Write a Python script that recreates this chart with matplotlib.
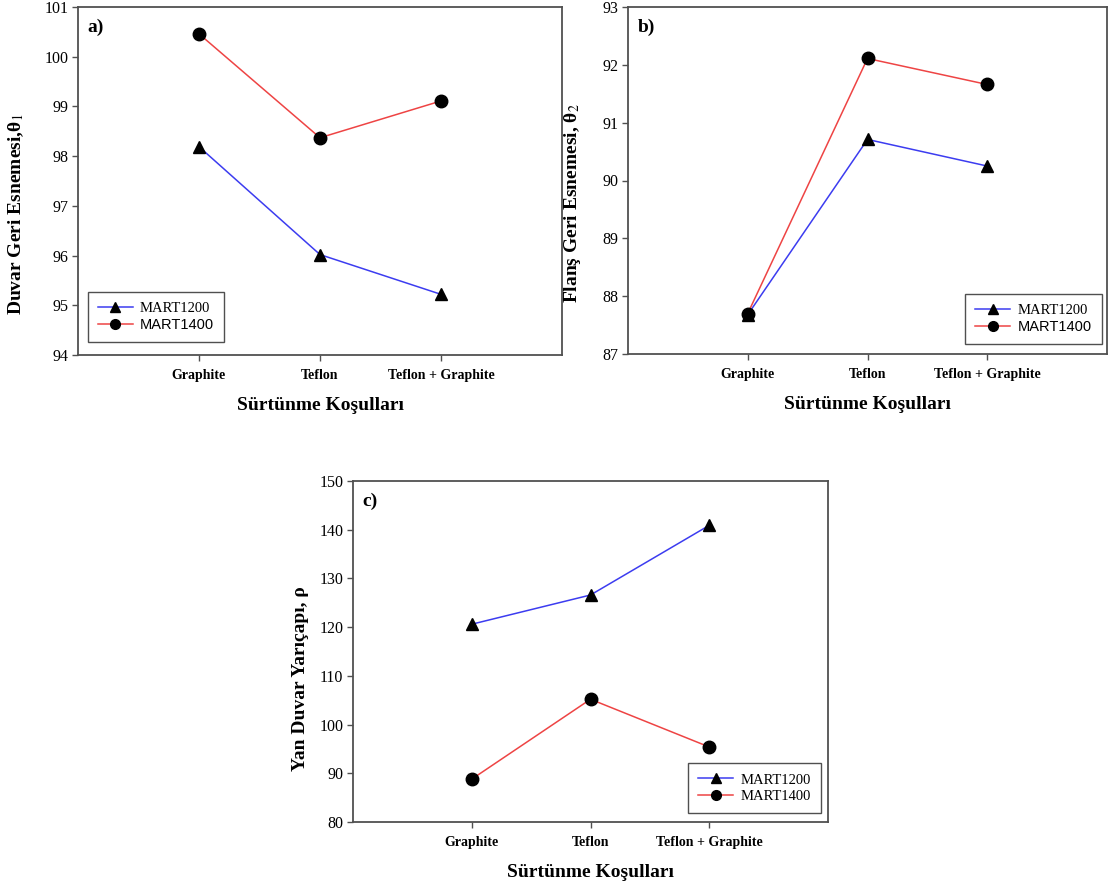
import matplotlib.pyplot as plt
from matplotlib.lines import Line2D

plt.rcParams['font.family'] = ['Liberation Serif', 'DejaVu Serif']
plt.rcParams['mathtext.fontset'] = 'stix'
plt.rcParams['axes.unicode_minus'] = False

kosullar = ['Graphite', 'Teflon', 'Teflon + Graphite']
seriler = ['MART1200', 'MART1400']

# a) duvar geri esnemesi
duvar_1200 = [98.19, 96.02, 95.22]
duvar_1400 = [100.46, 98.37, 99.11]
# b) flans geri esnemesi
flans_1200 = [87.68, 90.71, 90.25]
flans_1400 = [87.70, 92.11, 91.66]
# c) yan duvar yaricapi
yaricap_1200 = [120.6, 126.6, 140.9]
yaricap_1400 = [88.8, 105.2, 95.4]

mavi = '#3c3cf0'
kirmizi = '#ee4444'
kenar = '#505050'

fig = plt.figure(figsize=(11.18, 8.85), dpi=100)

def panel(rect, y1200, y1400, ylim, yticks, ylabel, ylabel_xy, harf, leg_box, leg_fonts):
    ax = fig.add_axes(rect)
    x = list(range(1, len(kosullar) + 1))
    ax.plot(x, y1200, color=mavi, lw=1.1, marker='^', ms=9, mfc='black', mec='black', zorder=3)
    ax.plot(x, y1400, color=kirmizi, lw=1.1, marker='o', ms=9, mfc='black', mec='black', zorder=3)
    ax.set_xlim(0, 4)
    ax.set_ylim(*ylim)
    ax.set_yticks(yticks)
    ax.set_xticks(x)
    ax.set_xticklabels(kosullar, fontweight='bold', fontsize=10)
    ax.tick_params(axis='y', labelsize=11.5, direction='out', length=4, width=1, color=kenar, pad=3)
    ax.tick_params(axis='x', direction='out', length=4, width=1, color=kenar, pad=6)
    for s in ax.spines.values():
        s.set_color(kenar)
        s.set_linewidth(1.3)
    ax.set_xlabel('Sürtünme Koşulları', fontweight='bold', fontsize=14, labelpad=11)
    ax.set_ylabel(ylabel, fontweight='bold', fontsize=14)
    ax.yaxis.set_label_coords(*ylabel_xy)
    ax.text(0.02, 0.965, harf, transform=ax.transAxes, fontweight='bold', fontsize=14, va='top')
    tutamac = [Line2D([], [], color=mavi, lw=1.1, marker='^', ms=7, mfc='black', mec='black'),
               Line2D([], [], color=kirmizi, lw=1.1, marker='o', ms=7, mfc='black', mec='black')]
    leg = ax.legend(tutamac, seriler, loc='center', bbox_to_anchor=leg_box, fontsize=10.5,
                    fancybox=False, framealpha=1, edgecolor=kenar, handlelength=2.4,
                    handletextpad=0.5, borderpad=0.7, labelspacing=0.2)
    leg.get_frame().set_linewidth(1.0)
    for t, f in zip(leg.get_texts(), leg_fonts):
        t.set_fontfamily(f)
    return ax

W, H = 1118, 885

def rect(l, r, t, b):
    return [l / W, 1 - b / H, (r - l) / W, (b - t) / H]

def box(l, r, t, b, ax_l, ax_r, ax_t, ax_b):
    return ((((l + r) / 2) - ax_l) / (ax_r - ax_l), 1 - (((t + b) / 2) - ax_t) / (ax_b - ax_t))

panel(rect(78, 562, 7, 355), duvar_1200, duvar_1400, (94, 101), range(94, 102),
      'Duvar Geri Esnemesi,θ$_1$', (-0.107, 0.405), 'a)',
      box(92, 220, 292, 342, 78, 562, 7, 355), ['Liberation Serif', 'Liberation Sans'])
panel(rect(628, 1107, 7, 354), flans_1200, flans_1400, (87, 93), range(87, 94),
      'Flanş Geri Esnemesi, θ$_2$', (-0.093, 0.435), 'b)',
      box(968, 1099, 294, 344, 628, 1107, 7, 354), ['Liberation Serif', 'Liberation Sans'])
panel(rect(353, 828, 481, 822), yaricap_1200, yaricap_1400, (80, 150), range(80, 151, 10),
      'Yan Duvar Yarıçapı, ρ', (-0.092, 0.42), 'c)',
      box(693, 816, 763, 813, 353, 828, 481, 822), ['Liberation Serif', 'Liberation Serif'])

fig.savefig('out.png', dpi=100)
